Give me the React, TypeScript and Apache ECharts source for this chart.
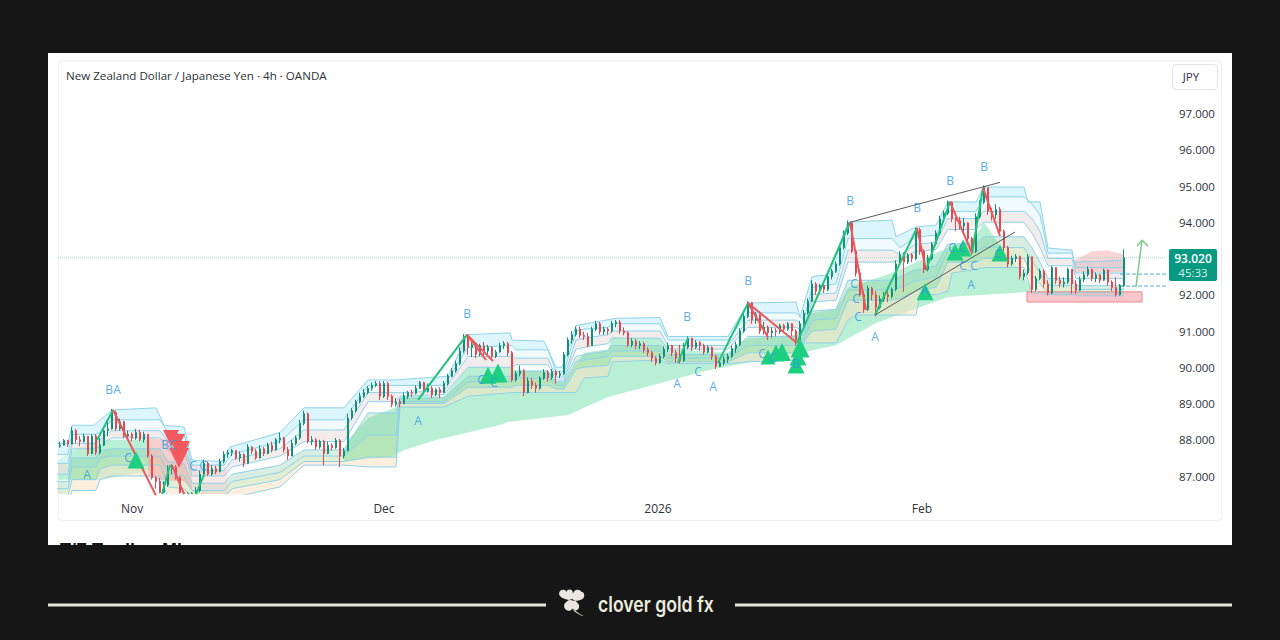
import React, { useEffect, useRef } from "react";
import * as echarts from "echarts";

const title = "New Zealand Dollar / Japanese Yen · 4h · OANDA";
const yTicks = [87, 88, 89, 90, 91, 92, 94, 95, 96, 97];
const xTickValues = [18.5, 81.5, 150, 216];
const xTickNames = ["Nov", "Dec", "2026", "Feb"];
const lastPrice = 93.02;
const lastPriceText = "93.020";
const countdownText = "45:33";
const firstOpen = 87.82;

// [close, low, high], one row per candle; the open is the previous close
const candleRows: number[][] = [
[87.85,87.78,87.95],[87.98,87.85,88.02],[87.88,87.8,88.0],[88.25,87.88,88.35],[88.0,87.9,88.3],[87.95,87.82,88.1],[88.1,87.92,88.17],[87.62,87.55,88.1],[88.1,87.6,88.15],[87.65,87.58,88.15],
[87.85,87.6,88.05],[88.25,87.82,88.3],[88.3,88.1,88.55],[88.75,88.28,88.85],[88.3,88.25,88.8],[88.5,88.25,88.58],[88.1,88.05,88.52],[88.15,88.0,88.25],[88.05,87.95,88.2],[88.2,88.0,88.3],
[88.0,87.95,88.28],[88.15,87.92,88.22],[87.55,87.5,88.1],[86.95,86.9,87.6],[86.85,86.65,87.0],[86.55,86.52,86.95],[86.75,86.52,86.85],[87.2,86.7,87.3],[87.25,87.05,87.32],[86.95,86.9,87.3],
[86.55,86.52,87.0],[86.52,86.52,86.6],[86.52,86.52,86.55],[86.52,86.52,86.55],[86.6,86.52,86.7],[87.05,86.55,87.15],[87.35,87.0,87.45],[87.05,87.0,87.4],[87.2,87.0,87.3],[87.12,87.05,87.28],
[87.4,87.1,87.48],[87.6,87.35,87.68],[87.65,87.5,87.72],[87.7,87.55,87.75],[87.5,87.45,87.72],[87.6,87.4,87.68],[87.35,87.25,87.62],[87.8,87.35,87.88],[87.68,87.6,87.82],[87.5,87.45,87.75],
[87.75,87.48,87.85],[87.62,87.55,87.8],[87.85,87.6,87.92],[87.72,87.65,87.95],[88.0,87.7,88.05],[88.05,87.9,88.2],[87.72,87.65,88.08],[87.55,87.45,87.8],[87.9,87.55,88.0],[88.05,87.85,88.12],
[88.45,88.0,88.55],[88.72,88.4,88.8],[87.95,87.9,88.75],[88.0,87.85,88.1],[87.8,87.72,88.05],[87.95,87.75,88.0],[87.62,87.3,88.0],[87.85,87.6,87.95],[87.78,87.7,87.9],[87.98,87.75,88.05],
[87.55,87.25,88.02],[87.7,87.48,87.78],[88.6,87.68,88.72],[88.8,88.55,88.88],[89.05,88.75,89.1],[89.2,89.0,89.3],[89.3,89.15,89.4],[89.42,89.25,89.48],[89.5,89.35,89.58],[89.55,89.45,89.62],
[89.2,89.1,89.62],[89.55,89.15,89.62],[89.2,89.1,89.6],[88.98,88.9,89.25],[89.05,88.92,89.15],[89.0,88.9,89.12],[89.2,88.98,89.3],[89.3,89.12,89.35],[89.28,89.18,89.38],[89.42,89.25,89.5],
[89.58,89.4,89.62],[89.35,89.25,89.6],[89.42,89.3,89.55],[89.25,89.15,89.48],[89.38,89.2,89.42],[89.3,89.15,89.45],[89.55,89.28,89.62],[89.75,89.5,89.82],[89.9,89.72,89.98],[90.1,89.85,90.18],
[90.45,90.05,90.55],[90.85,90.4,90.92],[90.55,90.35,90.9],[90.62,90.28,90.7],[90.35,90.25,90.68],[90.6,90.3,90.65],[90.45,90.3,90.7],[90.55,90.35,90.62],[90.3,90.2,90.58],[90.42,90.25,90.48],
[90.6,90.4,90.68],[90.65,90.5,90.72],[90.4,90.3,90.7],[89.65,89.6,90.45],[89.82,89.6,89.9],[89.9,89.75,90.05],[89.3,89.2,89.95],[89.62,89.28,89.72],[89.5,89.4,89.7],[89.42,89.3,89.58],
[89.7,89.38,89.75],[89.85,89.65,89.95],[89.72,89.6,89.92],[89.88,89.65,89.95],[89.78,89.55,89.92],[89.82,89.7,89.9],[90.35,89.78,90.42],[90.75,90.3,90.82],[90.9,90.65,91.0],[91.05,90.85,91.12],
[90.88,90.8,91.12],[90.85,90.75,90.98],[90.6,90.55,90.95],[91.05,90.6,91.12],[91.2,91.0,91.28],[90.98,90.9,91.25],[91.05,90.9,91.12],[91.0,90.9,91.1],[91.2,90.95,91.28],[91.25,91.1,91.3],
[91.0,90.92,91.3],[90.95,90.88,91.1],[90.62,90.55,91.0],[90.72,90.55,90.8],[90.6,90.5,90.78],[90.65,90.5,90.72],[90.48,90.4,90.7],[90.4,90.3,90.55],[90.25,90.15,90.45],[90.12,90.05,90.3],
[90.3,90.1,90.38],[90.5,90.25,90.58],[90.6,90.42,90.68],[90.4,90.3,90.62],[90.25,90.12,90.48],[90.18,90.1,90.62],[90.55,90.15,90.68],[90.8,90.5,90.85],[90.55,90.45,90.82],[90.68,90.5,90.75],
[90.6,90.45,90.72],[90.42,90.35,90.65],[90.55,90.38,90.6],[90.3,90.2,90.58],[90.02,89.95,90.35],[90.12,90.0,90.2],[90.22,90.05,90.3],[90.3,90.12,90.38],[90.52,90.25,90.6],[90.62,90.4,90.7],
[91.0,90.58,91.08],[91.4,90.95,91.48],[91.78,91.35,91.82],[91.3,91.2,91.8],[91.45,91.2,91.52],[91.0,90.92,91.48],[91.1,90.9,91.25],[90.95,90.75,91.15],[91.0,90.82,91.1],[90.98,90.85,91.08],
[91.15,90.92,91.2],[91.05,90.95,91.2],[91.2,91.0,91.25],[91.0,90.85,91.22],[90.75,90.6,91.05],[91.2,90.7,91.28],[91.5,91.15,91.58],[91.82,91.45,91.9],[92.3,91.8,92.4],[92.1,92.0,92.35],
[92.25,92.02,92.3],[92.15,92.05,92.35],[92.5,92.1,92.55],[92.65,92.42,92.72],[92.85,92.6,92.92],[93.3,92.8,93.38],[93.7,93.25,93.78],[93.98,93.65,94.05],[93.2,93.15,93.98],[92.6,92.5,93.25],
[92.0,91.95,92.7],[91.6,91.5,92.1],[92.18,91.55,92.25],[92.0,91.85,92.22],[91.65,91.4,92.1],[91.88,91.6,91.98],[92.0,91.8,92.08],[91.95,91.8,92.1],[92.15,91.9,92.2],[92.85,92.1,92.95],
[93.1,92.8,93.2],[92.9,92.08,93.15],[93.1,92.85,93.15],[93.0,92.9,93.15],[93.8,92.95,93.85],[93.2,93.1,93.85],[92.7,92.6,93.25],[93.0,92.65,93.1],[93.4,92.95,93.45],[93.7,93.35,93.78],
[94.1,93.65,94.18],[94.25,94.05,94.32],[94.55,94.2,94.6],[94.1,94.0,94.58],[94.05,93.75,94.15],[93.9,93.8,94.15],[93.98,93.7,94.12],[93.55,93.4,94.0],[93.2,93.1,93.6],[94.15,93.15,94.25],
[94.55,94.1,94.6],[94.95,94.5,95.02],[94.3,94.2,94.95],[94.2,94.05,94.4],[94.35,94.1,94.5],[93.75,93.65,94.42],[93.3,93.2,93.8],[92.85,92.75,93.35],[93.0,92.8,93.08],[93.05,92.9,93.12],
[92.5,92.42,93.08],[92.6,92.4,92.7],[93.05,92.55,93.12],[92.15,92.05,93.05],[92.45,92.1,92.52],[92.65,92.4,92.72],[92.3,92.2,92.7],[92.05,91.98,92.4],[92.75,92.02,92.8],[92.4,92.3,92.72],
[92.3,92.2,92.5],[92.35,92.2,92.48],[92.7,92.3,92.75],[92.3,92.02,92.7],[92.12,92.02,92.4],[92.42,92.1,92.5],[92.55,92.35,92.65],[92.7,92.5,92.78],[92.45,92.38,92.72],[92.55,92.35,92.62],
[92.4,92.32,92.58],[92.68,92.38,92.72],[92.35,92.25,92.7],[92.2,92.1,92.4],[92.0,91.95,92.48],[92.25,91.98,92.3],[93.02,92.22,93.25],
];

// Top envelope line: [candle index, price] vertices
const bandT1: number[][] = [[-1,87.9],[2,87.9],[3,88.4],[8.5,88.4],[13,88.82],[24,88.88],[26,88.4],[31,88.35],[33,87.44],[40.5,87.4],[42.5,87.8],[55,88.2],[61,88.88],[71,88.88],[77,89.65],[84,89.65],[90,89.7],[97,89.75],[102,90.9],[112.5,90.95],[113,90.75],[121,90.72],[124,90.0],[125.5,90.0],[129,91.15],[139,91.35],[150,91.37],[152,90.85],[167,90.85],[172,91.77],[184,91.8],[185,91.38],[188,92.5],[192,92.55],[197,94.0],[208,94.06],[209,93.6],[214,93.87],[219,93.92],[222,94.56],[229,94.56],[231,94.97],[241,94.97],[242,94.56],[245,94.56],[247,93.29],[253,93.23],[253.5,92.9],[266,92.95]];
// Lower envelope lines: [candle index, T2, T3, T4, L1, L2, L3, L4]
const bandRows: number[][] = [
[-1,87.6,87.35,87.05,86.85,86.65,86.45,86.2],[2,87.6,87.35,87.05,86.85,86.65,86.45,86.2],[3,88.15,87.9,87.75,87.5,87.25,86.9,86.6],[9,88.15,87.9,87.75,87.5,87.25,86.9,86.6],[10,88.2,88.0,87.85,87.7,87.5,87.2,86.9],[13,88.55,88.25,88.05,87.75,87.55,87.3,87.0],[25,88.55,88.25,88.05,87.75,87.55,87.3,87.0],
[27,88.2,87.95,87.7,87.4,87.05,86.7,86.4],[31,88.15,87.9,87.65,87.35,87.0,86.65,86.35],[33,87.3,87.15,87.0,86.8,86.6,86.4,86.2],[41,87.3,87.15,87.0,86.8,86.6,86.4,86.2],[43,87.6,87.45,87.25,87.05,86.85,86.65,86.4],[55,87.95,87.75,87.55,87.3,87.1,86.9,86.7],[61,88.55,88.27,87.95,87.72,87.55,87.4,87.3],[71,88.55,88.27,87.95,87.72,87.55,87.4,87.3],
[77,89.5,89.3,89.05,88.74,88.13,87.52,87.25],[84,89.5,89.3,89.05,88.74,88.13,87.52,87.25],[85,89.5,89.3,89.2,89.15,89.05,89.0,88.9],[96,89.5,89.35,89.25,89.15,89.05,89.0,88.9],[102,90.55,90.3,90.0,89.75,89.6,89.45,89.2],[113,90.6,90.3,90.0,89.75,89.6,89.45,89.3],[114,90.48,90.25,90.07,89.9,89.7,89.5,89.3],[122,90.48,90.25,90.07,89.9,89.7,89.5,89.3],
[124,89.87,89.73,89.65,89.6,89.5,89.4,89.3],[126,89.87,89.73,89.65,89.6,89.5,89.4,89.3],[129,91.0,90.75,90.5,90.3,90.15,89.95,89.3],[131,91.05,90.8,90.55,90.35,90.2,90.0,89.7],[137,91.1,90.9,90.65,90.45,90.3,90.05,89.75],[138,91.2,91.0,90.8,90.6,90.45,90.3,90.15],[150,91.2,91.0,90.8,90.6,90.45,90.3,90.2],[152,90.75,90.6,90.5,90.35,90.25,90.15,90.1],[167,90.75,90.6,90.5,90.35,90.25,90.15,90.1],
[172,91.5,91.3,91.1,90.85,90.6,90.4,90.15],[184,91.5,91.3,91.1,90.85,90.6,90.4,90.2],[186,91.3,91.1,91.0,90.9,90.75,90.7,90.67],[188,92.2,92.0,91.8,91.55,91.3,91.0,90.67],[194,92.3,92.05,91.85,91.6,91.35,91.05,90.67],[197,93.55,93.23,92.9,92.4,92.13,91.85,91.3],[199,93.55,93.23,92.9,92.4,92.13,91.85,91.44],[208,93.55,93.23,92.9,92.4,92.13,91.85,91.44],
[210,93.3,93.1,92.95,92.5,92.2,91.9,91.44],[214,93.6,93.4,93.2,92.7,92.4,92.1,91.44],[215,93.6,93.4,93.2,92.7,92.4,92.15,92.0],[219,93.65,93.45,93.25,92.8,92.5,92.2,92.0],[222,94.3,94.1,93.8,93.4,93.2,92.9,92.1],[223,94.3,94.1,93.8,93.4,93.2,92.9,92.6],[229,94.3,94.1,93.8,93.4,93.2,92.9,92.7],[231,94.7,94.3,94.0,93.6,93.3,93.0,92.75],[241,94.7,94.3,94.0,93.6,93.3,93.0,92.75],
[243,94.5,94.1,93.7,93.3,92.95,92.55,92.05],[245,94.2,93.75,93.3,92.9,92.6,92.3,92.05],[247,93.15,93.0,92.8,92.45,92.25,92.05,92.0],[253,93.15,93.0,92.8,92.45,92.25,92.05,92.0],[254,92.75,92.6,92.45,92.25,92.15,92.05,91.97],[266,92.75,92.6,92.45,92.25,92.15,92.05,91.97],
];

const mintAUpper: number[][] = [[-1,87.4],[3,87.7],[10,88.0],[22,88.0],[23,87.5]];
const mintALower: number[][] = [[-1,86.9],[10,86.9],[20,87.1],[23,87.15]];
const mintBUpper: number[][] = [[71,87.6],[72,88.0],[77,88.6],[84,88.9],[85,89.2],[96,89.2],[102,90.0],[113,90.0],[114,89.9],[122,89.9],[124,89.6],[126,89.6],[131,90.4],[137,90.5],[138,90.85],[150,90.8],[152,90.5],[167,90.4],[172,90.8],[184,90.9],[188,91.5],[194,91.6],[197,92.2],[208,92.6],[214,92.9],[222,93.3],[229,93.6],[231,94.0],[236,93.2],[240,92.7],[243,92.15]];
const mintBLower: number[][] = [[71,87.4],[83,87.53],[86,87.72],[94,87.99],[110,88.41],[112,88.49],[127,88.68],[137,89.18],[153,89.65],[162,89.92],[185,90.39],[194,90.61],[204,91.22],[222,91.94],[243,92.08]];
const pinkUpper: number[][] = [[22,88.05],[27,88.0],[31,87.8],[33,87.3]];
const pinkLower: number[][] = [[22,87.0],[25,86.9],[31,86.85],[33,86.6]];
const paleUpper: number[][] = [[33,87.3],[41,87.35],[42,87.0]];
const paleLower: number[][] = [[33,86.5],[42,86.5]];
const domeUpper: number[][] = [[253.5,92.95],[258,93.2],[262,93.22],[266,93.12]];
const domeLower: number[][] = [[253.5,92.62],[266,92.62]];
const supportUpper: number[][] = [[241.75,92.08],[270.5,92.08]];
const supportLower: number[][] = [[241.75,91.8],[270.5,91.8]];

// Swing legs: [index, price, index, price]
const greenLegs: number[][] = [[9.25,87.99,13.25,88.82],[25.5,86.5,27.5,87.3],[34,86.5,36,87.03],[89.5,89.1,101.75,90.9],[154.5,90.12,157,90.81],[164.5,90.12,172,91.77],[184.25,90.67,197.5,94.0],[203.75,91.44,214.25,93.84],[216.5,92.68,222.5,94.56],[228,93.15,230.75,94.95]];
const redLegs: number[][] = [[13.25,88.82,24.5,86.35],[28,87.3,31,86.5],[101.75,90.9,108.25,90.17],[101.75,90.9,106.5,90.2],[172,91.77,184.25,90.67],[172,91.77,177,90.83],[197.5,94.0,201.5,91.58],[214.25,93.84,216.5,92.68],[222.5,94.56,228,93.15],[230.75,94.95,235,93.62]];
const trendLegs: number[][] = [[197.5,94.0,235,95.1],[203.75,91.44,238.75,93.73]];
const arrowLegs: number[][] = [[269,92.21,270.5,93.51],[269.25,93.34,270.5,93.51],[272,93.34,270.5,93.51]];
const dashLevels = [92.57, 92.24];

// Markers: [index, price, size]
const upTriangles: number[][] = [[19,87.44,17],[107,89.78,17],[109.5,89.84,19],[177,90.28,15],[179,90.39,17],[180.5,90.42,18],[185,90.53,19],[184.5,90.28,17],[184,90.06,17],[216.25,92.08,17],[223.75,93.18,17],[225.75,93.29,17],[235,93.15,17]];
const downTriangles: number[][] = [[27.75,88.05,16],[29,87.91,18],[30.25,87.72,18],[29.75,87.5,20]];
const waveLabels: [number, number, string][] = [[6.75,87.03,"A"],[12.25,89.4,"B"],[14.25,89.4,"A"],[17,87.5,"C"],[26.25,87.88,"B"],[28.25,87.88,"C"],[33.25,87.3,"C"],[35.75,87.3,"C"],[89.5,88.54,"A"],[101.75,91.47,"B"],[105.25,89.65,"C"],[108.5,89.59,"C"],[154.25,89.54,"A"],[156.75,91.39,"B"],[159.5,89.87,"C"],[163.25,89.46,"A"],[172,92.38,"B"],[175.5,90.39,"C"],[178.25,90.26,"C"],[184,90.09,"B"],[197.5,94.59,"B"],[198.5,92.32,"C"],[199,91.91,"C"],[199.5,91.41,"C"],[203.75,90.86,"A"],[214.25,94.42,"B"],[216.25,92.13,"A"],[222.5,95.14,"B"],[223,93.29,"C"],[225.75,93.29,"C"],[225.75,92.8,"C"],[228.5,92.8,"C"],[227.75,92.27,"A"],[231,95.55,"B"],[234.5,93.15,"C"]];

const cloverPath = "M13 11C9 11 1 9 1 5C1 1 6 0 8 3C9 0 14 0 14 4C14 7 13 9 13 11ZM13 11C13 9 13 6 15 3C17 0 21 1 22 3C25 3 26 8 23 10C20 12 16 12 13 11ZM13 10C8 12 5 14 6 18C7 21 11 22 13 19.5C15 22 20 21 20 17C20 14 16 11 13 10ZM14 19C16 21 19 23 24 26L23 26C19 24 15 22 13 19Z";
echarts.graphic.registerShape("clover", (echarts.graphic as any).extendPath(cloverPath, {}));

const xOf = (i: number) => i + 0.5;
const bandCol = (col: number) => bandRows.map((r) => [r[0], r[col]]);

export default function App() {
  const ref = useRef<HTMLDivElement>(null);
  useEffect(() => {
    const chart = echarts.init(ref.current!, undefined, { renderer: "svg" });
    const candles = candleRows.map((r, i) => [xOf(i), i === 0 ? firstOpen : candleRows[i - 1][0], r[0], r[1], r[2]]);
    const bandT2 = bandCol(1), bandT3 = bandCol(2), bandT4 = bandCol(3), bandL1 = bandCol(4), bandL2 = bandCol(5), bandL3 = bandCol(6), bandL4 = bandCol(7);
    const fills: { upper: number[][]; lower: number[][]; fill: string; stroke?: string }[] = [
      { upper: mintAUpper, lower: mintALower, fill: "#b9f0d5" },
      { upper: mintBUpper, lower: mintBLower, fill: "#b9f0d5" },
      { upper: bandT1, lower: bandT2, fill: "rgba(200,241,251,0.62)" },
      { upper: bandT2, lower: bandT3, fill: "rgba(232,249,253,0.6)" },
      { upper: bandT3, lower: bandT4, fill: "rgba(236,226,226,0.65)" },
      { upper: bandL1, lower: bandL2, fill: "rgba(130,200,160,0.3)" },
      { upper: bandL2, lower: bandL3, fill: "rgba(180,210,140,0.38)" },
      { upper: bandL3, lower: bandL4, fill: "rgba(250,225,195,0.55)" },
      { upper: pinkUpper, lower: pinkLower, fill: "rgba(240,160,155,0.5)" },
      { upper: paleUpper, lower: paleLower, fill: "rgba(240,205,205,0.45)" },
      { upper: domeUpper, lower: domeLower, fill: "rgba(242,150,150,0.4)" },
      { upper: supportUpper, lower: supportLower, fill: "rgba(240,120,130,0.42)", stroke: "#e98b92" },
    ];
    const legSeries = (legs: number[][], color: string, width: number, z: number) =>
      legs.map((l) => ({
        type: "line", z, symbol: "none", silent: true,
        lineStyle: { color, width },
        data: [[xOf(l[0]), l[1]], [xOf(l[2]), l[3]]],
      }));
    const option: any = {
      animation: false,
      backgroundColor: "#161616",
      grid: { left: 58, width: 1108, top: 59.125, height: 435 },
      xAxis: {
        type: "value", min: 0, max: 277, splitLine: { show: false },
        axisLine: { show: false }, axisTick: { show: false },
        axisLabel: {
          customValues: xTickValues, margin: 8, color: "#2e3238", fontSize: 12, fontFamily: "Open Sans",
          formatter: (v: number) => xTickNames[xTickValues.indexOf(v)] ?? "",
        },
      },
      yAxis: {
        type: "value", position: "right", min: 86.5, max: 98.5, splitLine: { show: false },
        axisLine: { show: false }, axisTick: { show: false },
        axisLabel: {
          customValues: yTicks, margin: 13, color: "#2e3238", fontSize: 11.5, fontFamily: "Open Sans",
          formatter: (v: number) => v.toFixed(3),
        },
      },
      graphic: { elements: [
        { type: "rect", z: 0, shape: { x: 48, y: 53, width: 1184, height: 492 }, style: { fill: "#ffffff" } },
        { type: "rect", z: 0, shape: { x: 58.5, y: 60.5, width: 1163, height: 460, r: 4 }, style: { fill: "#ffffff", stroke: "#eceef1", lineWidth: 1 } },
        { type: "text", z: 1, x: 66, y: 75, style: { text: title, fill: "#2e3238", fontSize: 11.6, fontFamily: "Open Sans", verticalAlign: "middle" } },
        { type: "rect", z: 1, shape: { x: 1172.5, y: 64.5, width: 45, height: 25, r: 4 }, style: { fill: "#fff", stroke: "#e0e3eb" } },
        { type: "text", z: 2, x: 1191, y: 76.5, style: { text: "JPY", fill: "#2e3238", fontSize: 11.5, fontFamily: "Open Sans", align: "center", verticalAlign: "middle" } },
        { type: "rect", z: 1, shape: { x: 1169, y: 249, width: 48, height: 32, r: 2 }, style: { fill: "#089981" } },
        { type: "text", z: 2, x: 1193, y: 258, style: { text: lastPriceText, fill: "#ffffff", fontSize: 12, fontWeight: 600, fontFamily: "Open Sans", align: "center", verticalAlign: "middle" } },
        { type: "text", z: 2, x: 1193, y: 272, style: { text: countdownText, fill: "#d7f0ea", fontSize: 11.5, fontFamily: "Open Sans", align: "center", verticalAlign: "middle" } },
        { type: "text", z: 1, x: 60, y: 541, style: { text: "T/Z Trading Mix", fill: "#161616", fontSize: 18, fontWeight: 700, fontFamily: "Liberation Sans", verticalAlign: "top" } },
        { type: "rect", z: 1, shape: { x: 48, y: 603.5, width: 498, height: 3 }, style: { fill: "#e6e5dd" } },
        { type: "rect", z: 1, shape: { x: 735, y: 603.5, width: 497, height: 3 }, style: { fill: "#e6e5dd" } },
        { type: "clover", z: 1, x: 558, y: 588.5, scaleX: 1.06, scaleY: 1.06, style: { fill: "#e8e8e0" } },
        { type: "text", z: 1, x: 598, y: 604, scaleX: 0.84, style: { text: "clover gold fx", fill: "#ececdf", fontSize: 21, fontWeight: 600, fontFamily: "Inter", verticalAlign: "middle" } },
      ] },
      series: [
        {
          type: "custom", z: 1, coordinateSystem: "cartesian2d", clip: true, silent: true,
          data: fills.map((_, i) => [i, 90]),
          renderItem: (params: any, api: any) => {
            const f = fills[params.dataIndex];
            const pts = [...f.upper, ...[...f.lower].reverse()].map((p) => api.coord([xOf(p[0]), p[1]]));
            return { type: "polygon", shape: { points: pts }, style: { fill: f.fill, stroke: f.stroke ?? "none", lineWidth: 1 } };
          },
        },
        ...[bandT1, bandT2, bandT3, bandT4, bandL1, bandL2, bandL3, bandL4].map((b) => ({
          type: "line", z: 2, symbol: "none", silent: true,
          lineStyle: { color: "#8fd2e8", width: 1 },
          data: b.map((p) => [xOf(p[0]), p[1]]),
        })),
        {
          type: "line", z: 2, symbol: "none", silent: true,
          lineStyle: { color: "#a5d4cf", width: 1, type: "dotted" },
          data: [[0, lastPrice], [277, lastPrice]],
        },
        ...dashLevels.map((lv) => ({
          type: "line", z: 2, symbol: "none", silent: true,
          lineStyle: { color: "#5aa9d6", width: 1, type: "dashed" },
          data: [[xOf(265), lv], [277, lv]],
        })),
        {
          type: "candlestick", z: 3, barWidth: 2.4, silent: true, clip: true,
          encode: { x: 0, y: [1, 2, 3, 4] },
          itemStyle: { color: "#158f78", color0: "#e8474f", borderColor: "#158f78", borderColor0: "#e8474f", borderWidth: 1 },
          data: candles,
        },
        ...legSeries(greenLegs, "#22c278", 2, 4),
        ...legSeries(redLegs, "#e9585c", 2, 4),
        ...legSeries(trendLegs, "#5a5a5a", 1, 4),
        ...legSeries(arrowLegs, "#82c98a", 1.5, 4),
        {
          type: "scatter", z: 5, symbol: "triangle", silent: true,
          itemStyle: { color: "#1dcf80", opacity: 1 },
          symbolSize: (d: number[]) => d[2],
          data: upTriangles.map((t) => [xOf(t[0]), t[1], t[2]]),
        },
        {
          type: "scatter", z: 5, symbol: "triangle", symbolRotate: 180, silent: true,
          itemStyle: { color: "#f25a60", opacity: 1 },
          symbolSize: (d: number[]) => d[2],
          data: downTriangles.map((t) => [xOf(t[0]), t[1], t[2]]),
        },
        {
          type: "scatter", z: 6, symbolSize: 1, silent: true,
          itemStyle: { color: "rgba(0,0,0,0)" },
          label: {
            show: true, position: "inside", color: "#2d96e8", fontSize: 12, fontFamily: "Open Sans",
            formatter: (p: any) => p.value[2],
          },
          data: waveLabels.map((w) => [xOf(w[0]), w[1], w[2]]),
        },
      ],
    };
    chart.setOption(option);
    return () => chart.dispose();
  }, []);
  return <div ref={ref} style={{ position: "fixed", left: 0, top: 0, width: 1280, height: 640 }} />;
}
